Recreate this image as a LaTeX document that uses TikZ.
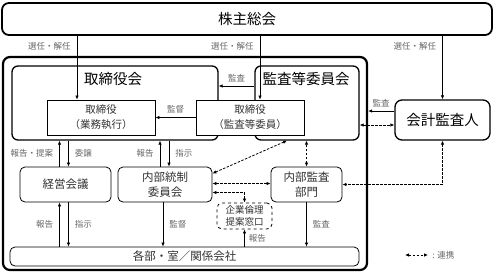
\documentclass[tikz,border=0pt]{standalone}
\usepackage{fontspec}
\setmainfont{Noto Sans CJK JP}
\usepackage{xcolor}
\usetikzlibrary{positioning, arrows.meta}
\definecolor{txtgray}{HTML}{333333}
\definecolor{lblgray}{HTML}{666666}

\begin{document}
\begin{tikzpicture}[x=1pt, y=-1pt,
  heavy/.style={draw, rounded corners=7pt, line width=1.8pt, inner sep=0pt},
  group/.style={draw, rounded corners=6pt, line width=1.3pt, inner sep=0pt},
  plain/.style={draw, fill=white, line width=0.8pt, inner sep=0pt, align=center, font=\fontsize{10.5}{15}\selectfont, text=txtgray},
  unit/.style={plain, rounded corners=5pt, font=\fontsize{11.5}{15}\selectfont},
  head/.style={font=\fontsize{14.5}{17}\selectfont},
  lbl/.style={font=\fontsize{8.5}{10}\selectfont, text=lblgray, inner sep=2pt},
  arr/.style={-{Latex[length=4pt, width=3.5pt]}, line width=0.7pt},
  dlink/.style={{Latex[length=4pt, width=3.5pt]}-{Latex[length=4pt, width=3.5pt]}, line width=0.8pt, dash pattern=on 2.5pt off 1.5pt}
]
  \useasboundingbox (0,0) rectangle (494,273);

  % 株主総会と会社の枠
  \node[heavy, head, minimum width=490pt, minimum height=32pt] (kabu) at (247,19) {株主総会};
  \node[heavy, line width=2.2pt, minimum width=364pt, minimum height=213pt] (company) at (185,163.5) {};

  % 取締役会・監査等委員会
  \node[group, minimum width=206pt, minimum height=74pt] (torikai) at (115,103) {};
  \node[head] (torikaiT) at (113,79) {取締役会};
  \node[group, minimum width=104pt, minimum height=74pt] (kansaiin) at (307,103) {};
  \node[head] (kansaiinT) at (306,79) {監査等委員会};

  \node[plain, minimum width=108pt, minimum height=35pt] (gyomu) at (101,117.5) {取締役\\（業務執行）};
  \node[plain, minimum width=108pt, minimum height=35pt] (kansatori) at (250,117.5) {取締役\\（監査等委員）};
  \node[unit, head, text=black, line width=1.3pt, rounded corners=7pt, minimum width=95pt, minimum height=40pt] (kaikei) at (442.5,120) {会計監査人};

  % 執行側の会議体
  \node[unit, minimum width=91pt, minimum height=35pt] (keiei) at (65.5,184.5) {経営会議};
  \node[unit, minimum width=94pt, minimum height=35pt] (ntosei) at (165,184.5) {内部統制\\委員会};
  \node[unit, minimum width=71pt, minimum height=35pt] (nkansa) at (306.5,184.5) {内部監査\\部門};
  \node[unit, dashed, font=\fontsize{9.5}{12}\selectfont, minimum width=55pt, minimum height=26pt] (rinri) at (244.5,216) {企業倫理\\提案窓口};
  \node[unit, minimum width=349pt, minimum height=19pt] (kakubu) at (184.5,256.5) {各部・室／関係会社};

  % 選任・解任
  \draw[arr] ([xshift=-24pt]gyomu.north |- kabu.south) -- node[lbl, pos=0.17, left=4pt] {選任・解任} ([xshift=-24pt]gyomu.north);
  \draw[arr] ([xshift=10pt]kansatori.north |- kabu.south) -- node[lbl, pos=0.17, left=4pt] {選任・解任} ([xshift=10pt]kansatori.north);
  \draw[arr] (kaikei.north |- kabu.south) -- node[lbl, pos=0.17, left=4pt] {選任・解任} (kaikei.north);

  % 監査・監督
  \draw[arr] ([yshift=17pt]kansaiin.west) -- node[lbl, above=2pt] {監査} ([yshift=17pt]kansaiin.west -| torikai.east);
  \draw[arr] (kansatori.west) -- node[lbl, above=2pt] {監督} (gyomu.east);
  \draw[arr] ([yshift=9pt]kaikei.west) -- node[lbl, above=2pt] {監査} ([yshift=9pt]kaikei.west -| company.east);

  % 取締役会と会議体
  \draw[arr] ([xshift=-6pt]keiei.north) -- node[lbl, left=4pt] {報告・提案} ([xshift=-6pt]keiei.north |- torikai.south);
  \draw[arr] ([xshift=3pt]keiei.north |- torikai.south) -- node[lbl, right=4pt] {委譲} ([xshift=3pt]keiei.north);
  \draw[arr] ([xshift=-5pt]ntosei.north) -- node[lbl, left=4pt] {報告} ([xshift=-5pt]ntosei.north |- torikai.south);
  \draw[arr] ([xshift=4pt]ntosei.north |- torikai.south) -- node[lbl, right=4pt] {指示} ([xshift=4pt]ntosei.north);

  % 各部・室／関係会社へ
  \draw[arr] ([xshift=-6pt]keiei.south |- kakubu.north) -- node[lbl, left=4pt] {報告} ([xshift=-6pt]keiei.south);
  \draw[arr] ([xshift=3pt]keiei.south) -- node[lbl, right=4pt] {指示} ([xshift=3pt]keiei.south |- kakubu.north);
  \draw[arr] ([xshift=-2pt]ntosei.south) -- node[lbl, right=4pt] {監督} ([xshift=-2pt]ntosei.south |- kakubu.north);
  \draw[arr] (nkansa.south) -- node[lbl, right=4pt] {監査} (nkansa.south |- kakubu.north);
  \draw[arr] (rinri.south |- kakubu.north) -- node[lbl, right=2pt] {報告} (rinri.south);

  % 連携
  \draw[dlink] ([yshift=-22pt]kansaiin.east) -- ([yshift=-22pt]kansaiin.east -| kaikei.west);
  \draw[dlink] (kaikei.south) |- (nkansa.east);
  \draw[dlink] (nkansa.north) -- (nkansa.north |- kansaiin.south);
  \draw[dlink] ([yshift=11pt]ntosei.east) -- ([xshift=-20pt]kansaiin.south);
  \draw[dlink] ([yshift=1pt]ntosei.east) -- ([yshift=1pt]nkansa.west);
  \draw[dlink] ([yshift=-8pt]ntosei.east) -| (rinri.north);

  % 凡例
  \coordinate (legA) at (405,255);
  \coordinate (legB) at (428,255);
  \draw[dlink] (legA) -- (legB) node[lbl, right=2pt] {: 連携};
\end{tikzpicture}
\end{document}
